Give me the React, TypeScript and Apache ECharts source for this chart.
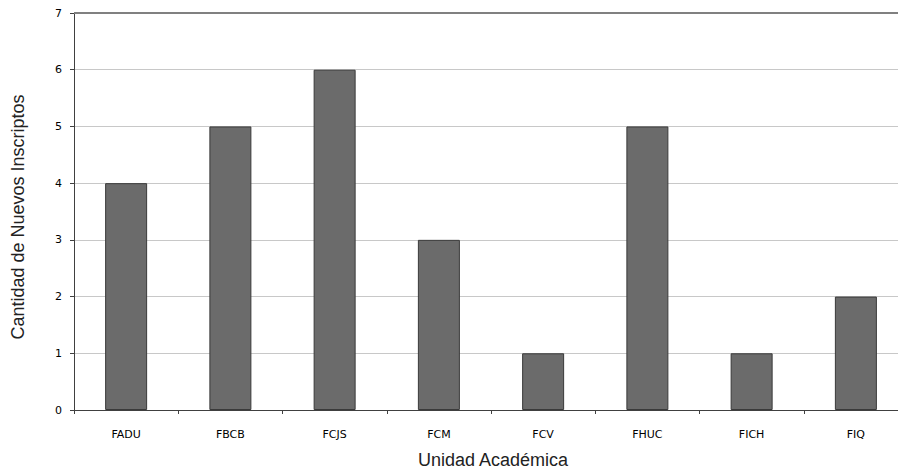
import React, { useEffect, useRef } from "react";
import * as echarts from "echarts";

const categories = ["FADU", "FBCB", "FCJS", "FCM", "FCV", "FHUC", "FICH", "FIQ"];
const values = [4, 5, 6, 3, 1, 5, 1, 2];
const yMax = 7;
const yTitle = "Cantidad de Nuevos Inscriptos";
const xTitle = "Unidad Académica";

export default function App() {
  const ref = useRef<HTMLDivElement>(null);
  useEffect(() => {
    if (!ref.current) return;
    const chart = echarts.init(ref.current, null, { renderer: "svg" });
    chart.setOption({
      animation: false,
      backgroundColor: "#ffffff",
      grid: { left: 74, top: 13, right: 2, bottom: 473 - 410, containLabel: false },
      xAxis: {
        type: "category",
        data: categories,
        axisLine: { lineStyle: { color: "#404040", width: 1 } },
        axisTick: { show: true, length: 4, inside: false, alignWithLabel: false, lineStyle: { color: "#404040" } },
        axisLabel: { fontFamily: "DejaVu Sans", fontSize: 11, color: "#000", margin: 19 },
        splitLine: { show: false },
      },
      yAxis: {
        type: "value",
        min: 0,
        max: yMax,
        interval: 1,
        axisLine: { show: true, lineStyle: { color: "#404040", width: 1 } },
        axisTick: { show: true, length: 4, lineStyle: { color: "#404040" } },
        axisLabel: { fontFamily: "DejaVu Sans", fontSize: 11, color: "#000", margin: 12 },
        splitLine: { show: true, lineStyle: { color: "#c8c8c8", width: 1 } },
      },
      series: [
        {
          type: "bar",
          data: values,
          barWidth: 42,
          itemStyle: { color: "#6b6b6b", borderColor: "#3a3a3a", borderWidth: 1 },
          markLine: {
            silent: true,
            symbol: "none",
            label: { show: false },
            lineStyle: { color: "#808080", width: 2, type: "solid" },
            data: [{ yAxis: yMax }],
          },
        },
      ],
      graphic: [
        {
          type: "text",
          x: 18,
          y: 217,
          rotation: Math.PI / 2,
          style: {
            text: yTitle,
            fontFamily: "Liberation Sans",
            fontSize: 18,
            fill: "#222",
            align: "center",
            verticalAlign: "middle",
          },
        },
        {
          type: "text",
          x: 493,
          y: 460,
          style: {
            text: xTitle,
            fontFamily: "Liberation Sans",
            fontSize: 18,
            fill: "#222",
            align: "center",
            verticalAlign: "middle",
          },
        },
      ],
    });
    return () => chart.dispose();
  }, []);
  return (
    <div style={{ position: "fixed", left: 0, top: 0, width: 898, height: 473, overflow: "hidden", background: "#fff" }}>
      <div ref={ref} style={{ width: 910, height: 473 }} />
    </div>
  );
}
